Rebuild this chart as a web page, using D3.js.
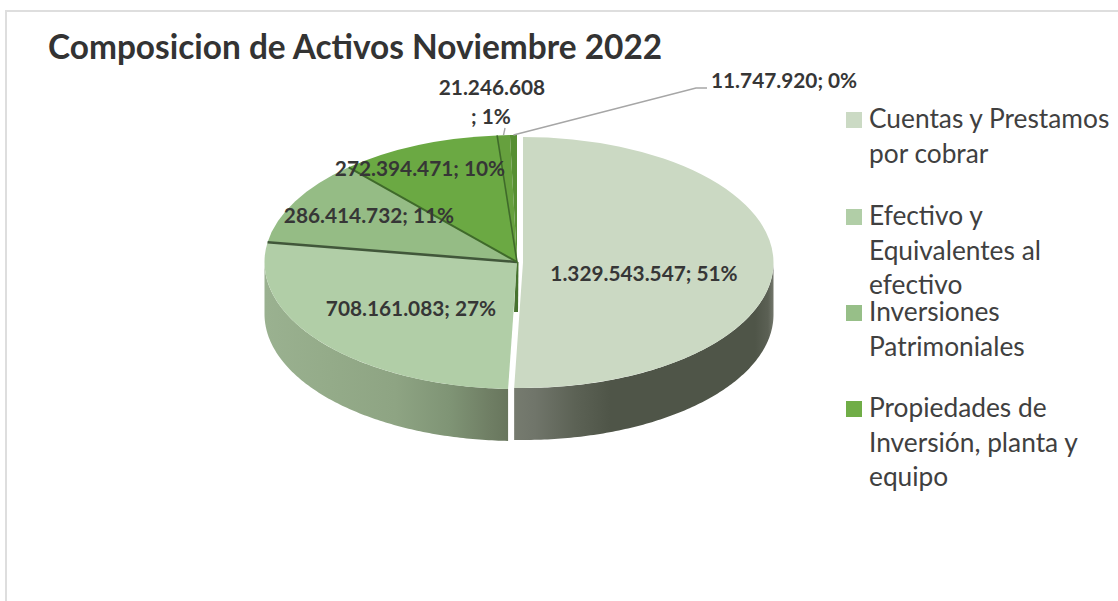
<!DOCTYPE html>
<html><head><meta charset="utf-8">
<style>html,body{margin:0;padding:0;background:#fff;overflow:hidden}svg{display:block}text{font-family:Lato,"Open Sans",sans-serif}</style>
<script src="https://cdn.jsdelivr.net/npm/d3@7"></script></head><body><svg id="c" width="1118" height="601"></svg>
<script>
const titleText = "Composicion de Activos Noviembre 2022";
const sliceValues = [1329543547, 708161083, 286414732, 272394471, 21246608, 11747920];
const sliceColors = ["#cbd9c3", "#b1cea7", "#95bc85", "#6ba943", "#66a03e", "#578f33"];
const legendLines = [
  ["Cuentas y Prestamos", "por cobrar"],
  ["Efectivo y", "Equivalentes al", "efectivo"],
  ["Inversiones", "Patrimoniales"],
  ["Propiedades de", "Inversión, planta y", "equipo"]
];
const legendColors = ["#cbdac4", "#b1cea7", "#97bf88", "#70ad47"];

// layout
const W = 1118, H = 601;
const mainPie = {cx: 517, cy: 262, rx: 252.5, ry: 127};
const explodedPie = {cx: 523, cy: 262.5, rx: 250.5, ry: 125.5};
const depth = 52;
const labelPos = [[644, 281], [411, 316], [369, 223], [420, 176]];
const legendSwatchY = [112, 209, 305, 401];
const legendBaseY = [128, 225, 321, 417];
const legendLineGap = 34.7;

const svg = d3.select("#c");
const defs = svg.append("defs");
function hGrad(id, stops) {
  const g = defs.append("linearGradient").attr("id", id).attr("gradientUnits", "userSpaceOnUse")
    .attr("x1", stops[0][0]).attr("x2", stops[stops.length-1][0]).attr("y1", 0).attr("y2", 0);
  const x0 = stops[0][0], x1 = stops[stops.length-1][0];
  stops.forEach(s => g.append("stop").attr("offset", (s[0]-x0)/(x1-x0)).attr("stop-color", s[1]));
}
hGrad("wall0", [[514,"#767b6f"],[535,"#70756a"],[575,"#5c6255"],[610,"#4f5548"],[755,"#4f5548"],[768,"#5b6054"],[774,"#75796e"]]);
hGrad("wall1", [[265,"#9ab190"],[330,"#94ab89"],[395,"#8ea483"],[450,"#7f9475"],[490,"#6f7e64"],[510,"#67755c"]]);

// frame
svg.append("path").attr("d", d3.line()([[6, H],[6, 11],[W, 11]]))
  .attr("fill", "none").attr("stroke", "#dedede").attr("stroke-width", 2);

const fmt = d3.formatLocale({thousands: ".", grouping: [3], decimal: ",", currency: ["", ""]}).format(",d");
const total = d3.sum(sliceValues);
const arcs = d3.pie().sort(null).value(d => d)(sliceValues);
const labelOf = d => fmt(d.value) + "; " + Math.round(d.value / total * 100) + "%";

const px = (p, a) => p.cx + p.rx * Math.sin(a);
const py = (p, a) => p.cy - p.ry * Math.cos(a);
const placement = i => i === 0 ? explodedPie : mainPie;

// side walls
const wallArea = p => d3.area().x(a => px(p, a)).y0(a => py(p, a)).y1(a => py(p, a) + depth);
[1, 0].forEach(i => {
  const d = arcs[i], p = placement(i);
  const a0 = Math.max(d.startAngle, Math.PI / 2), a1 = Math.min(d.endAngle, Math.PI * 1.5);
  const n = 120, angles = d3.range(n + 1).map(k => a0 + (a1 - a0) * k / n);
  svg.append("path").attr("d", wallArea(p)(angles)).attr("fill", `url(#wall${i})`);
});

// inner wall exposed by the exploded slice
svg.append("path").attr("d", d3.line()([
    [mainPie.cx - 0.5, mainPie.cy], [mainPie.cx + 1.5, mainPie.cy],
    [mainPie.cx + 1, mainPie.cy + depth - 2], [mainPie.cx - 3, mainPie.cy + depth - 2]
  ])).attr("fill", "#47722f");

// top faces
const arcGen = d3.arc().innerRadius(0);
arcs.forEach((d, i) => {
  const p = placement(i);
  svg.append("path")
    .attr("d", arcGen.outerRadius(p.rx)(d))
    .attr("transform", `translate(${p.cx},${p.cy}) scale(1,${p.ry / p.rx})`)
    .attr("fill", sliceColors[i]);
});

// dark seams between slices
const seamColor = ["", "", "#41573a", "#3f6a2a", "#3f6a2a"];
const seamWidth = [0, 0, 2.6, 2, 1.6];
[2, 3, 4].forEach(i => {
  const a = arcs[i].startAngle;
  svg.append("line")
    .attr("x1", mainPie.cx).attr("y1", mainPie.cy)
    .attr("x2", px(mainPie, a)).attr("y2", py(mainPie, a))
    .attr("stroke", seamColor[i]).attr("stroke-width", seamWidth[i]);
});

// leader lines
const leader = d3.line();
const a5 = (arcs[4].startAngle + arcs[4].endAngle) / 2, a6 = (arcs[5].startAngle + arcs[5].endAngle) / 2;
svg.append("path").attr("d", leader([[505, 128], [px(mainPie, a5), py(mainPie, a5)]]))
  .attr("fill", "none").attr("stroke", "#a6a6a6").attr("stroke-width", 1.4);
svg.append("path").attr("d", leader([[px(mainPie, a6), py(mainPie, a6)], [696, 88], [707, 88]]))
  .attr("fill", "none").attr("stroke", "#a6a6a6").attr("stroke-width", 1.4);

// data labels
const lblSize = 20.8, lblColor = "#363636";
function lbl(txt, x, y, anchor) {
  svg.append("text").attr("x", x).attr("y", y).attr("text-anchor", anchor || "middle")
    .attr("font-size", lblSize).attr("font-weight", 700).attr("fill", lblColor).text(txt);
}
arcs.slice(0, 4).forEach((d, i) => lbl(labelOf(d), labelPos[i][0], labelPos[i][1]));
const split = labelOf(arcs[4]).split("; ");
lbl(split[0], 492, 95);
lbl("; " + split[1], 491, 124);
lbl(labelOf(arcs[5]), 711, 88, "start");

// title
svg.append("text").attr("x", 48).attr("y", 59).attr("font-size", 33.4).attr("font-weight", 700)
  .attr("fill", "#333").text(titleText);

// legend
legendLines.forEach((lines, i) => {
  svg.append("rect").attr("x", 846).attr("y", legendSwatchY[i]).attr("width", 16).attr("height", 16).attr("fill", legendColors[i]);
  lines.forEach((t, j) => svg.append("text").attr("x", 869).attr("y", legendBaseY[i] + j * legendLineGap)
    .attr("font-size", 26.3).attr("fill", "#404040").text(t));
});
</script></body></html>
